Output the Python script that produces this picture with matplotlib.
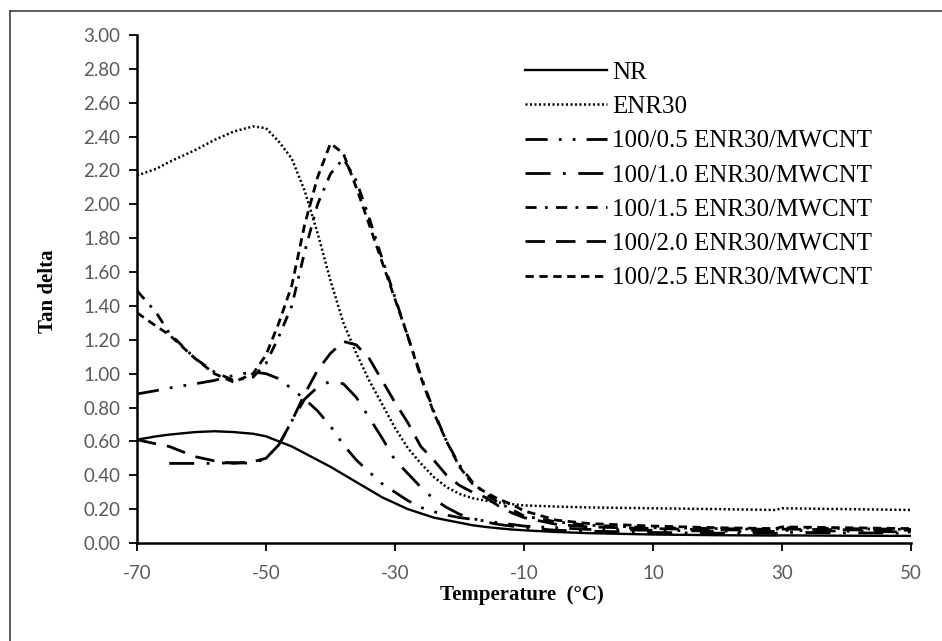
import numpy as np
import matplotlib
matplotlib.use("Agg")
import matplotlib.pyplot as plt
from matplotlib.lines import Line2D

plt.rcParams['axes.unicode_minus'] = False
fz = 13.5

temp = [-70, -67, -65, -61, -58, -55, -52, -50, -48, -46, -44, -42, -40, -38, -36, -34,
        -32, -30, -28, -26, -24, -22, -20, -18, -16, -14, -12, -10, -5, 0, 10, 20, 29, 30, 40, 50]

nr = [0.61, 0.63, 0.64, 0.655, 0.66, 0.655, 0.645, 0.63, 0.60, 0.57, 0.53, 0.49, 0.45, 0.405, 0.36, 0.315,
      0.27, 0.235, 0.20, 0.175, 0.15, 0.135, 0.12, 0.105, 0.095, 0.087, 0.08, 0.075, 0.065, 0.058, 0.05, 0.046, 0.044, 0.045, 0.043, 0.042]

enr30 = [2.17, 2.21, 2.25, 2.32, 2.38, 2.43, 2.46, 2.45, 2.37, 2.27, 2.08, 1.83, 1.55, 1.30, 1.12, 0.96,
         0.82, 0.68, 0.56, 0.47, 0.39, 0.33, 0.29, 0.265, 0.25, 0.24, 0.23, 0.222, 0.215, 0.21, 0.205, 0.20, 0.195, 0.205, 0.20, 0.195]

cnt05 = [0.88, 0.90, 0.915, 0.94, 0.96, 0.99, 1.01, 1.00, 0.97, 0.91, 0.85, 0.78, 0.69, 0.58, 0.49, 0.42,
         0.35, 0.30, 0.25, 0.21, 0.185, 0.165, 0.15, 0.14, 0.13, 0.12, 0.11, 0.10, 0.09, 0.08, 0.075, 0.07, 0.068, 0.075, 0.07, 0.065]

cnt10 = [np.nan, np.nan, 0.47, 0.47, 0.47, 0.475, 0.47, 0.50, 0.58, 0.72, 0.85, 0.92, 0.955, 0.94, 0.86, 0.74,
         0.62, 0.49, 0.41, 0.33, 0.26, 0.21, 0.17, 0.145, 0.125, 0.11, 0.10, 0.09, 0.075, 0.07, 0.062, 0.058, 0.057, 0.063, 0.06, 0.058]

cnt15 = [1.49, 1.36, 1.24, 1.09, 1.01, 0.96, 0.98, 1.06, 1.22, 1.40, 1.72, 2.00, 2.18, 2.27, 2.14, 1.92,
         1.68, 1.45, 1.22, 0.99, 0.78, 0.60, 0.46, 0.36, 0.29, 0.24, 0.20, 0.16, 0.125, 0.105, 0.09, 0.085, 0.08, 0.09, 0.085, 0.08]

cnt20 = [0.61, 0.585, 0.57, 0.51, 0.485, 0.47, 0.48, 0.50, 0.58, 0.72, 0.88, 1.02, 1.12, 1.19, 1.17, 1.09,
         0.96, 0.83, 0.71, 0.57, 0.49, 0.40, 0.34, 0.30, 0.27, 0.22, 0.18, 0.15, 0.11, 0.095, 0.085, 0.078, 0.075, 0.082, 0.078, 0.075]

cnt25 = [1.36, 1.28, 1.23, 1.09, 1.00, 0.95, 1.00, 1.11, 1.30, 1.52, 1.88, 2.16, 2.36, 2.30, 2.10, 1.88,
         1.66, 1.44, 1.22, 0.98, 0.77, 0.60, 0.45, 0.35, 0.30, 0.26, 0.23, 0.19, 0.135, 0.115, 0.10, 0.09, 0.085, 0.095, 0.09, 0.085]

labels = ["NR", "ENR30", "100/0.5 ENR30/MWCNT", "100/1.0 ENR30/MWCNT", "100/1.5 ENR30/MWCNT",
          "100/2.0 ENR30/MWCNT", "100/2.5 ENR30/MWCNT"]

x_ticks = [-70, -50, -30, -10, 10, 30, 50]


def draw():
    fig = plt.figure(figsize=(9.42, 6.41), dpi=100)
    ax = fig.add_axes([0.1454, 0.1529, 0.8217, 0.7925])

    series = [nr, enr30, cnt05, cnt10, cnt15, cnt20, cnt25]
    styles = ['-', (0, (0.8, 1.0)), (0, (8, 4, 1, 4, 1, 4)), (0, (9, 4.5, 1, 4.5)),
              (0, (4, 3, 1, 3)), (0, (7, 4)), (0, (3, 2))]
    widths = [1.7, 1.8, 2.0, 2.0, 2.0, 2.0, 2.0]
    for s, ls, lw, lab in zip(series, styles, widths, labels):
        ax.plot(temp, s, linestyle=ls, color='k', linewidth=lw, label=lab)

    ax.set_xlim(-70, 50)
    ax.set_ylim(0, 3)
    ax.set_xticks(x_ticks)
    ax.set_yticks(np.arange(0, 3.01, 0.2))
    ax.set_yticklabels(["%.2f" % v for v in np.arange(0, 3.01, 0.2)])
    for sp in ['top', 'right']:
        ax.spines[sp].set_visible(False)
    for sp in ['left', 'bottom']:
        ax.spines[sp].set_linewidth(1.8)
    ax.tick_params(direction='out', length=6, width=1.3, colors='k', labelcolor='#595959',
                   labelsize=fz)
    ax.tick_params(axis='x', pad=10)
    ax.tick_params(axis='y', pad=6)
    for t in ax.get_xticklabels() + ax.get_yticklabels():
        t.set_family('Lato')

    fig.text(0.0510, 0.546, "Tan delta", rotation=90, ha='center', va='center',
             family='Liberation Serif', weight='bold', fontsize=15)
    fig.text(0.554, 0.072, "Temperature  (\u00b0C)", ha='center', va='center',
             family='Liberation Serif', weight='bold', fontsize=15)

    ax.legend(loc='upper left', bbox_to_anchor=(0.488, 0.968), frameon=False,
              prop={'family': 'Liberation Serif', 'size': 18}, handlelength=3.3,
              handletextpad=0.2, labelspacing=0.47, borderaxespad=0)

    # chart area border (only top and left inside the crop)
    fig.add_artist(Line2D([10 / 942, 10 / 942], [0, 1 - 11 / 641], transform=fig.transFigure,
                          color='#404040', linewidth=1.2))
    fig.add_artist(Line2D([10 / 942, 1], [1 - 11 / 641, 1 - 11 / 641], transform=fig.transFigure,
                          color='#404040', linewidth=1.2))

    fig.savefig("out.png", dpi=100)
    plt.close(fig)


draw()
